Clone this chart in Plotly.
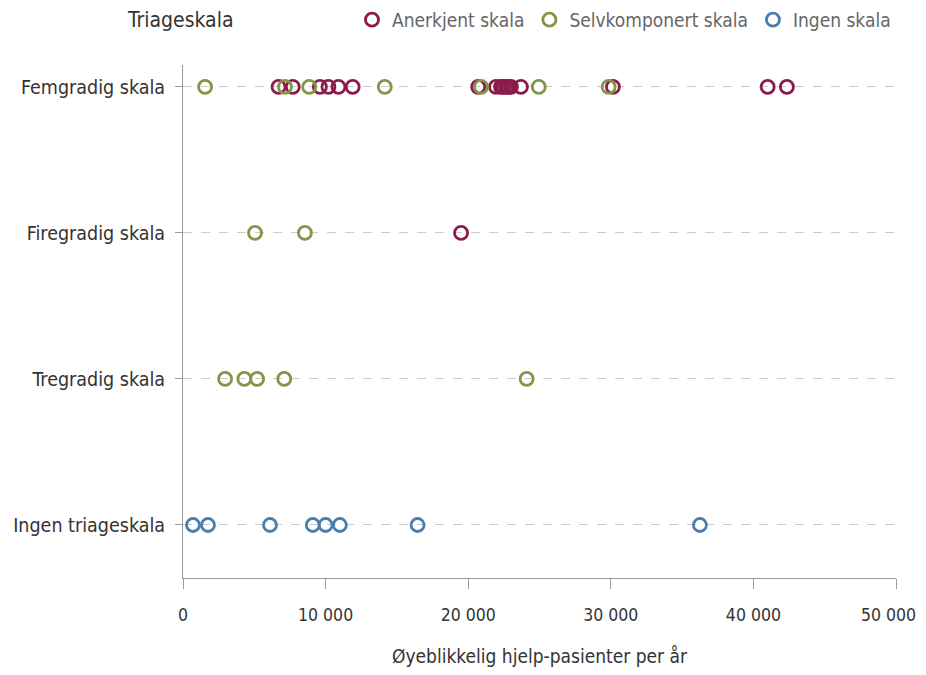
import plotly.graph_objects as go

categories = ["Ingen triageskala", "Tregradig skala", "Firegradig skala", "Femgradig skala"]

# Anerkjent skala
anerkjent_cat = ["Femgradig skala"] * 17 + ["Firegradig skala"]
anerkjent_val = [6700, 7700, 9600, 10200, 10900, 11900, 20700, 21950, 22300, 22650,
                 23000, 23700, 30150, 41000, 42350, 22450, 22800, 19500]

# Selvkomponert skala
selv_cat = (["Femgradig skala"] * 7 + ["Firegradig skala"] * 2 + ["Tregradig skala"] * 5)
selv_val = [1550, 7150, 8850, 14150, 20900, 24950, 29850,
            5050, 8550,
            2950, 4300, 5200, 7100, 24100]

# Ingen skala
ingen_cat = ["Ingen triageskala"] * 8
ingen_val = [700, 1750, 6100, 9100, 10000, 11000, 16450, 36250]

series = [
    ("Anerkjent skala", anerkjent_val, anerkjent_cat, "#8c1b4d"),
    ("Selvkomponert skala", selv_val, selv_cat, "#849548"),
    ("Ingen skala", ingen_val, ingen_cat, "#4a7eb0"),
]

x_ticks = [0, 10000, 20000, 30000, 40000, 50000]
# last label padded on the right so it stays inside the visible page edge
x_tick_labels = ["0", "10 000", "20 000", "30 000", "40 000", "50 000\u00a0\u00a0\u00a0"]

FONT = "DejaVu Sans Condensed, Roboto, sans-serif"

fig = go.Figure()
for name, vals, cats, col in series:
    fig.add_trace(go.Scatter(
        x=vals, y=cats, mode="markers", name=name,
        marker=dict(symbol="circle-open", size=13, color=col, line=dict(width=2.8)),
    ))

# page body adds an 8px margin, so the figure is sized to fit the 926x675 window without scrollbars
fig.update_layout(
    width=918, height=659,
    margin=dict(l=175, r=30, t=57, b=89, autoexpand=False),
    paper_bgcolor="white", plot_bgcolor="white",
    font=dict(family=FONT, size=18, color="#333333"),
    showlegend=True,
    legend=dict(orientation="h", x=1.0, xanchor="right", y=1.088, yanchor="middle",
                font=dict(size=19, color="#666666"), itemwidth=30,
                traceorder="normal", bgcolor="rgba(0,0,0,0)"),
    annotations=[dict(text="Triageskala", xref="paper", yref="paper",
                      x=-0.0813, y=1.088, xanchor="left", yanchor="middle",
                      showarrow=False, font=dict(size=21, color="#333333"))],
)

fig.update_xaxes(
    range=[0, 50000], tickvals=x_ticks, ticktext=x_tick_labels,
    showgrid=False, zeroline=False, automargin=False,
    showline=True, linecolor="#999999", linewidth=1,
    ticks="outside", ticklen=10, tickcolor="#999999",
    ticklabelstandoff=11, ticklabeloverflow="allow",
    tickfont=dict(size=17.5, color="#333333"),
    title=dict(text="Øyeblikkelig hjelp-pasienter per år", font=dict(size=19, color="#333333"), standoff=28),
)
fig.update_yaxes(
    type="category", categoryorder="array", categoryarray=categories,
    range=[-0.363, 3.15], automargin=False,
    showgrid=True, gridcolor="#cccccc", gridwidth=1, griddash="dash",
    zeroline=False,
    showline=True, linecolor="#999999", linewidth=1,
    ticks="outside", ticklen=7, tickcolor="#999999",
    ticklabelstandoff=6,
    tickfont=dict(size=19.5, color="#333333"),
)

fig.write_html("out.html")
